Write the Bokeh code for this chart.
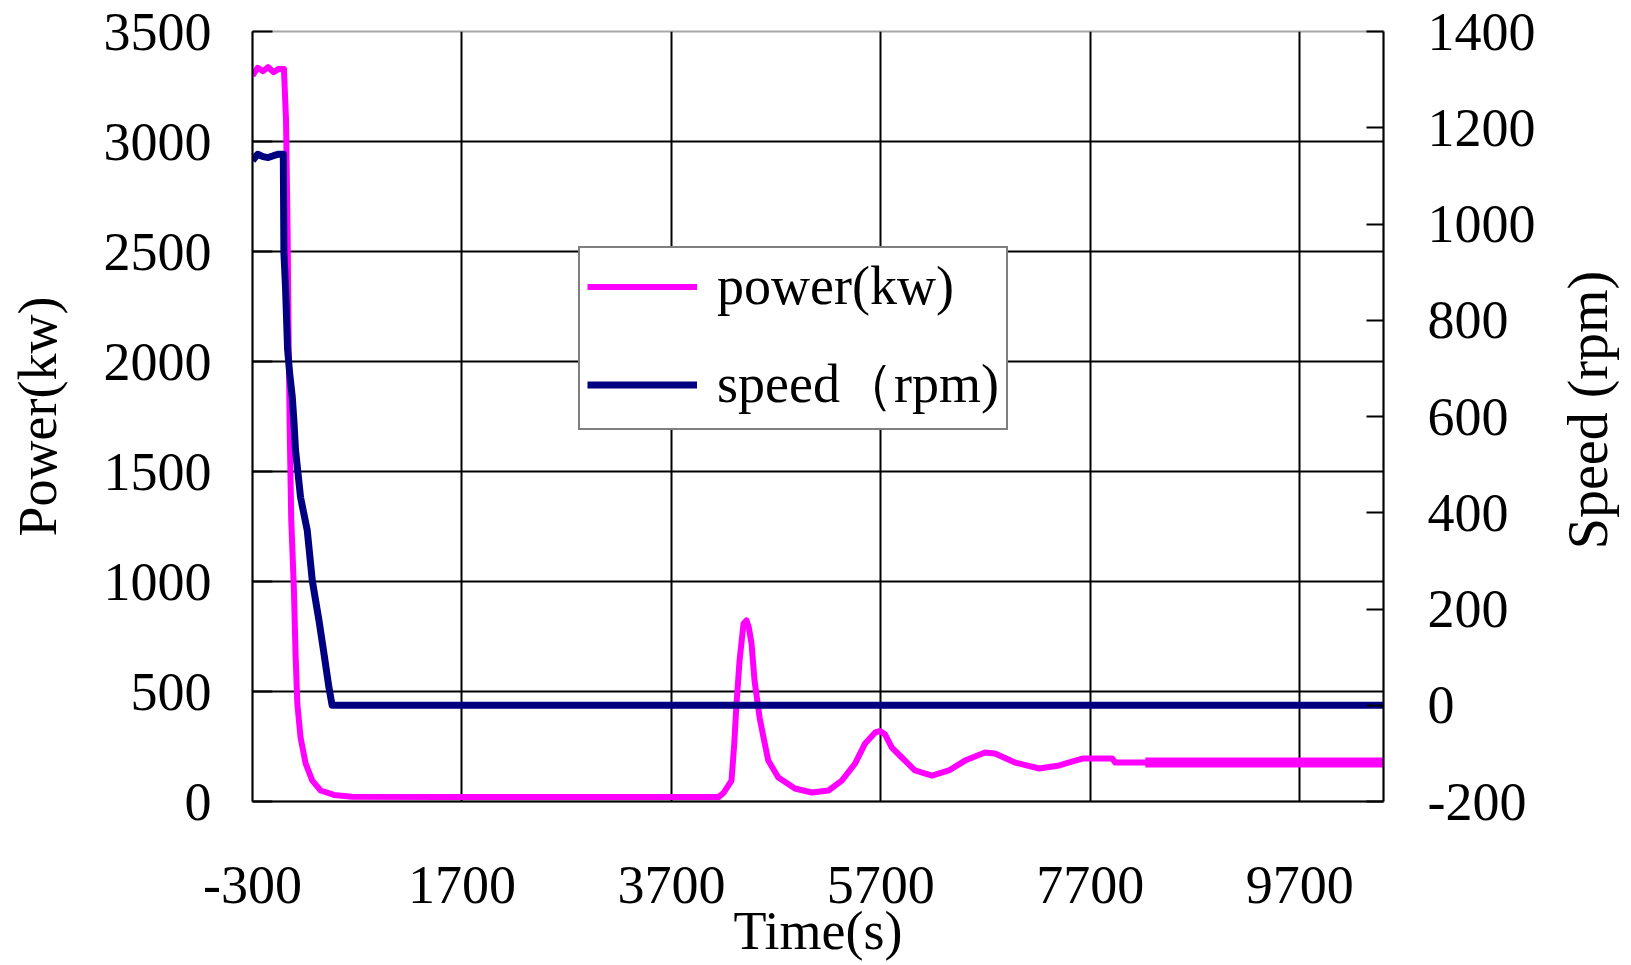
import math
from bokeh.plotting import figure
from bokeh.layouts import row
from bokeh.models import Range1d, LinearAxis, FixedTicker, Legend, LegendItem, Label
from bokeh.embed import file_html
from bokeh.resources import INLINE

# ---- data ----
time_power = [-300, -250, -200, -150, -100, -50, 0, 20, 35, 45, 55, 70, 95, 111, 128, 159, 207,
              271, 351, 478, 650, 1500, 2500, 3500, 4150, 4200, 4274, 4300, 4322, 4351, 4389,
              4418, 4440, 4465, 4494, 4542, 4580, 4625, 4721, 4880, 5040, 5200, 5327, 5455,
              5550, 5646, 5690, 5740, 5805, 5900, 6025, 6188, 6350, 6504, 6695, 6790, 6982,
              7212, 7403, 7623, 7910, 7939, 8226, 9000, 10500]
power = [3300, 3335, 3320, 3338, 3315, 3330, 3330, 3100, 2600, 2100, 1700, 1280, 970, 673, 445,
         291, 173, 95, 50, 30, 22, 20, 20, 20, 20, 40, 95, 260, 445, 641, 809, 823, 790, 718,
         550, 382, 290, 186, 109, 59, 41, 50, 95, 173, 264, 314, 320, 305, 245, 200, 141, 118,
         141, 186, 223, 218, 177, 150, 164, 195, 195, 177, 177, 177, 177]

time_speed = [-300, -250, -200, -150, -100, -50, -6, 0, 15, 35, 55, 80, 95, 111, 159, 223, 271,
              335, 382, 430, 460, 10500]
speed = [1132, 1145, 1140, 1138, 1142, 1145, 1145, 940, 870, 740, 690, 640, 592, 530, 432, 363,
         259, 176, 108, 37, 0, 0]

x_ticks = [-300, 1700, 3700, 5700, 7700, 9700]
power_ticks = [0, 500, 1000, 1500, 2000, 2500, 3000, 3500]
speed_ticks = [-200, 0, 200, 400, 600, 800, 1000, 1200, 1400]

x_title = "Time(s)"
left_title = "Power(kw)"
right_title = "Speed (rpm)"

tail_start = 8226

FONT = "Liberation Serif"
FS = "54px"
MAGENTA = "#FF00FF"
NAVY = "#000080"

p = figure(frame_width=1131, frame_height=770, output_backend="svg", toolbar_location=None,
           x_range=Range1d(-300, 10500), y_range=Range1d(0, 3500),
           min_border_left=252, min_border_right=160, min_border_top=31, min_border_bottom=0)
p.background_fill_color = "white"
p.border_fill_color = "white"
p.outline_line_color = "#A8A8A8"
p.outline_line_width = 2

p.extra_y_ranges = {"speed": Range1d(-200, 1400)}

# axes
p.xaxis.ticker = FixedTicker(ticks=x_ticks)
p.yaxis.ticker = FixedTicker(ticks=power_ticks)
p.xaxis.axis_label = x_title
p.yaxis.axis_label = left_title
p.xaxis.major_label_overrides = {-300: "-300"}

right = LinearAxis(y_range_name="speed", ticker=FixedTicker(ticks=speed_ticks))
right.major_label_overrides = {-200: "-200"}
p.add_layout(right, "right")

for ax in [p.xaxis[0], p.yaxis[0], right]:
    ax.axis_line_color = "black"
    ax.axis_line_width = 2
    ax.major_tick_line_color = "black"
    ax.major_tick_line_width = 2
    ax.major_tick_out = 0
    ax.minor_tick_line_color = None
    ax.major_label_text_font = FONT
    ax.major_label_text_font_size = FS
    ax.major_label_text_color = "black"
    ax.axis_label_text_font = FONT
    ax.axis_label_text_font_size = FS
    ax.axis_label_text_font_style = "normal"
    ax.axis_label_text_color = "black"

p.xaxis.major_tick_in = 0
p.xaxis.major_label_standoff = 65
p.xaxis.axis_label_standoff = -5
p.yaxis.major_tick_in = 20
p.yaxis.major_label_standoff = 41
p.yaxis.axis_label_standoff = 33
right.major_tick_in = 17
right.major_label_standoff = 44

# grid
p.xgrid.ticker = FixedTicker(ticks=x_ticks)
p.ygrid.ticker = FixedTicker(ticks=power_ticks[:-1])
for g in [p.xgrid[0], p.ygrid[0]]:
    g.grid_line_color = "#000000"
    g.grid_line_width = 2

# lines
r_power = p.line(time_power, power, line_color=MAGENTA, line_width=6, line_join="round")
tail_idx = time_power.index(tail_start)
p.line(time_power[tail_idx:], power[tail_idx:], line_color=MAGENTA, line_width=10)
r_speed = p.line(time_speed, speed, line_color=NAVY, line_width=7, line_join="round",
                 y_range_name="speed")

legend = Legend(items=[LegendItem(label="power(kw)", renderers=[r_power]),
                       LegendItem(label="speed（rpm)", renderers=[r_speed])],
                location=(326, 371))
legend.label_text_font = FONT
legend.label_text_font_size = FS
legend.label_text_color = "black"
legend.glyph_width = 110
legend.glyph_height = 61
legend.label_height = 61
legend.spacing = 31
legend.padding = 7
legend.margin = 0
legend.label_standoff = 20
legend.border_line_color = "black"
legend.border_line_width = 2
legend.background_fill_color = "white"
legend.background_fill_alpha = 1.0
p.add_layout(legend, "center")

# narrow strip on the right holding the right-axis title, reading bottom-to-top
STRIP_W, STRIP_H = 84, 950
p2 = figure(width=STRIP_W, height=STRIP_H, output_backend="svg", toolbar_location=None,
            x_range=Range1d(0, STRIP_W), y_range=Range1d(0, STRIP_H),
            x_axis_location=None, y_axis_location=None, min_border=0)
p2.grid.visible = False
p2.outline_line_color = None
p2.background_fill_color = "white"
p2.border_fill_color = "white"
p2.add_layout(Label(x=44, y=STRIP_H - 475, text=right_title, angle=math.pi / 2,
                    text_align="center", text_baseline="middle",
                    text_font=FONT, text_font_size="56px", text_color="black"))

layout = row(p, p2)
open("out.html", "w").write(file_html(layout, INLINE))
